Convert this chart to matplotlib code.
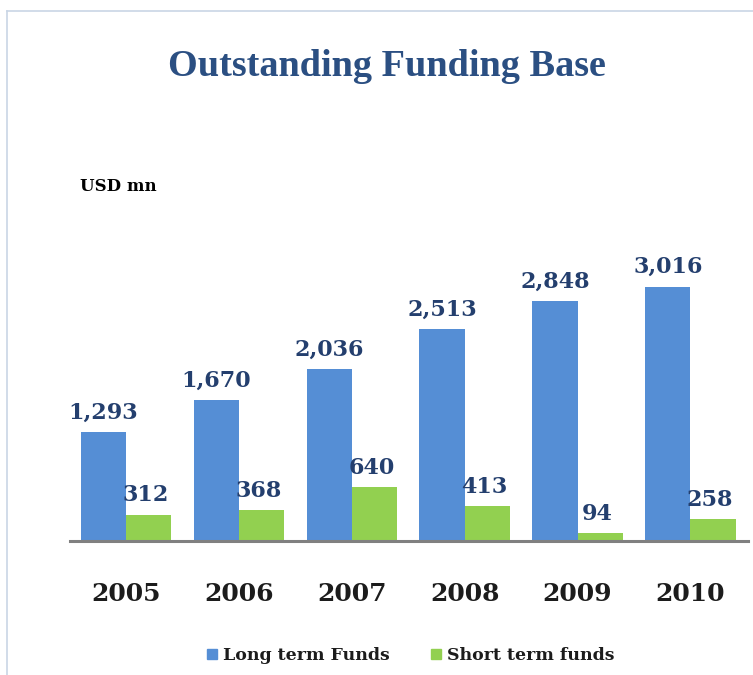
import matplotlib.pyplot as plt
from matplotlib.lines import Line2D
from matplotlib.patches import Rectangle
import numpy as np

years = ["2005", "2006", "2007", "2008", "2009", "2010"]
long_term = [1293, 1670, 2036, 2513, 2848, 3016]
short_term = [312, 368, 640, 413, 94, 258]

BLUE = "#558ed5"
GREEN = "#92d050"
LABEL = "#243f6e"
SERIF = ["DejaVu Serif"]
TITLE_FONT = ["Liberation Serif", "DejaVu Serif"]

W, H = 753, 675
fig = plt.figure(figsize=(W / 100, H / 100), dpi=100)

# light frame (top and left edges)
fig.add_artist(Line2D([7 / W, 1], [1 - 11 / H, 1 - 11 / H], color="#c9d5e5", lw=1.2))
fig.add_artist(Line2D([7 / W, 7 / W], [0, 1 - 11 / H], color="#c9d5e5", lw=1.2))

ax = fig.add_axes([70 / W, (H - 541) / H, (748 - 70) / W, 0.5])
x = np.arange(len(years))
bw = 0.4
ax.bar(x - bw / 2, long_term, bw, color=BLUE, label="Long term Funds")
ax.bar(x + bw / 2, short_term, bw, color=GREEN, label="Short term funds")
ax.set_xlim(-0.496, 5.51)
ax.set_ylim(0, 4000)
ax.set_yticks([])
ax.set_xticks([])
for s in ["top", "right", "left"]:
    ax.spines[s].set_visible(False)
ax.spines["bottom"].set_color("#808080")
ax.spines["bottom"].set_linewidth(2.2)

for xi, v in zip(x, long_term):
    ax.annotate(f"{v:,}", (xi - bw / 2, v), xytext=(0, 6), textcoords="offset points",
                ha="center", va="bottom", fontsize=16, fontweight="bold",
                color=LABEL, family=SERIF)
for xi, v in zip(x, short_term):
    ax.annotate(f"{v:,}", (xi + bw / 2, v), xytext=(-2, 6), textcoords="offset points",
                ha="center", va="bottom", fontsize=16, fontweight="bold",
                color=LABEL, family=SERIF)
for xi, y in zip(x, years):
    ax.annotate(y, (xi, 0), xytext=(0, -38), textcoords="offset points",
                ha="center", va="center", fontsize=18, fontweight="bold",
                color="#1c1c1c", family=SERIF)

fig.text(387 / W, 1 - 67 / H, "Outstanding Funding Base", ha="center", va="center",
         fontsize=27.5, fontweight="bold", color="#2b4f82", family=TITLE_FONT)
fig.text(80 / W, 1 - 187 / H, "USD mn", ha="left", va="center",
         fontsize=12, fontweight="bold", color="black", family=SERIF)

# legend
for sx, col, txt in [(207, BLUE, "Long term Funds"), (431, GREEN, "Short term funds")]:
    fig.add_artist(Rectangle((sx / W, 1 - 659 / H), 10 / W, 10 / H, color=col,
                             transform=fig.transFigure))
    fig.text((sx + 16) / W, 1 - 655 / H, txt, ha="left", va="center",
             fontsize=12.5, fontweight="bold", color="#1c1c1c", family=SERIF)

fig.savefig("out.png", dpi=100)
